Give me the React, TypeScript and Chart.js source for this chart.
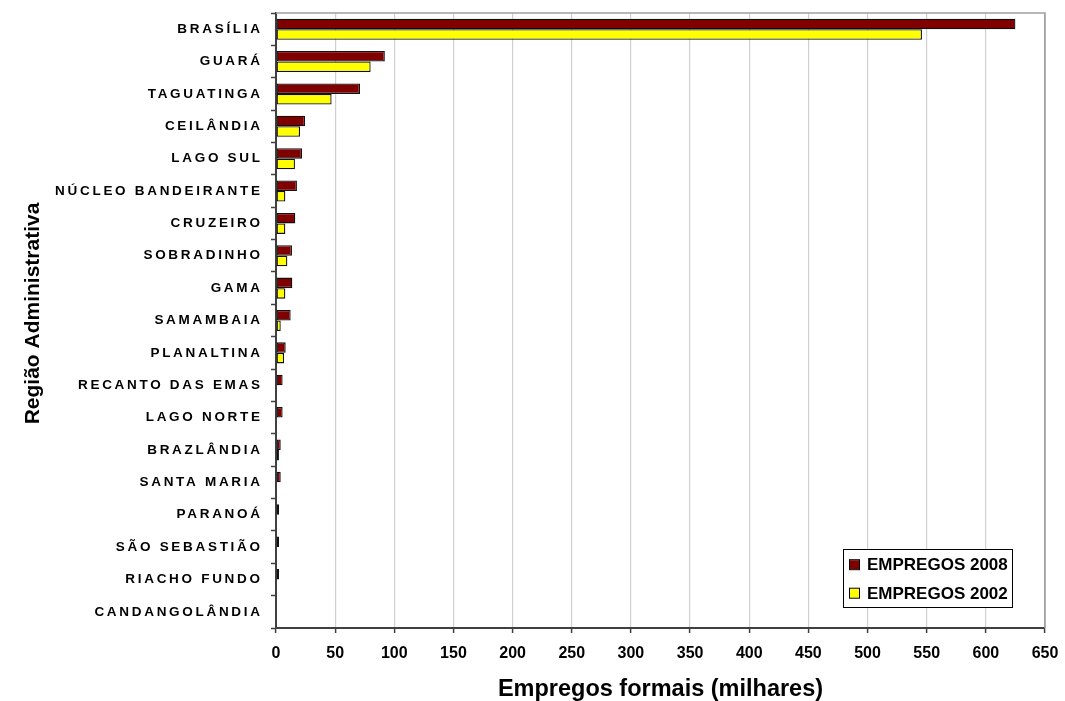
import React, { useEffect, useRef } from 'react';
import { Chart, registerables } from 'chart.js';

Chart.register(...registerables);

const FONT = '"Liberation Sans", Arial, Helvetica, sans-serif';

const regioes = [
  'BRASÍLIA',
  'GUARÁ',
  'TAGUATINGA',
  'CEILÂNDIA',
  'LAGO SUL',
  'NÚCLEO BANDEIRANTE',
  'CRUZEIRO',
  'SOBRADINHO',
  'GAMA',
  'SAMAMBAIA',
  'PLANALTINA',
  'RECANTO DAS EMAS',
  'LAGO NORTE',
  'BRAZLÂNDIA',
  'SANTA MARIA',
  'PARANOÁ',
  'SÃO SEBASTIÃO',
  'RIACHO FUNDO',
  'CANDANGOLÂNDIA',
];

// Empregos formais, em milhares
const empregos2008 = [625, 92, 71, 24.5, 22, 17.7, 16.3, 13.5, 13.8, 12.4, 8.2, 5.6, 5.6, 4, 4, 2.6, 2.6, 2.6, null];
const empregos2002 = [546, 80, 47, 20.3, 16, 7.9, 7.9, 9.6, 7.9, 4, 6.8, null, null, 2.5, null, null, null, null, null];

const xMin = 0;
const xMax = 650;
const xStep = 50;

const serieLabels = ['EMPREGOS 2008', 'EMPREGOS 2002'];
const serieColors = ['#800000', '#FFFF00'];

const tituloX = 'Empregos formais (milhares)';
const tituloY = 'Região Administrativa';

// Category labels, y-axis title, plot frame and legend box
const decorations = {
  id: 'decorations',
  afterDraw(chart: any) {
    const { ctx, chartArea, scales } = chart;
    const y = scales.y;
    ctx.save();

    // top and right frame of the plot area
    ctx.strokeStyle = '#a0a0a0';
    ctx.lineWidth = 1.5;
    ctx.beginPath();
    ctx.moveTo(chartArea.left, chartArea.top);
    ctx.lineTo(chartArea.right, chartArea.top);
    ctx.lineTo(chartArea.right, chartArea.bottom);
    ctx.stroke();

    // region names, letter-spaced
    const spacing = 2.7;
    ctx.font = `bold 13.5px ${FONT}`;
    (ctx as any).letterSpacing = `${spacing}px`;
    ctx.textAlign = 'right';
    ctx.textBaseline = 'middle';
    ctx.fillStyle = '#000';
    regioes.forEach((r, i) => {
      ctx.fillText(r, y.left - 11 + spacing, y.getPixelForValue(i));
    });
    (ctx as any).letterSpacing = '0px';

    // y-axis title
    ctx.save();
    ctx.translate(33, (chartArea.top + chartArea.bottom) / 2 - 7);
    ctx.rotate(-Math.PI / 2);
    ctx.font = `bold 21px ${FONT}`;
    ctx.textAlign = 'center';
    ctx.textBaseline = 'middle';
    ctx.fillText(tituloY, 0, 0);
    ctx.restore();

    // legend
    const lw = 169;
    const lh = 58;
    const lx = chartArea.right - 202;
    const ly = chartArea.bottom - 79;
    ctx.fillStyle = '#fff';
    ctx.fillRect(lx, ly, lw, lh);
    ctx.strokeStyle = '#000';
    ctx.lineWidth = 1;
    ctx.strokeRect(lx + 0.5, ly + 0.5, lw, lh);
    ctx.font = `bold 17px ${FONT}`;
    ctx.textAlign = 'left';
    ctx.textBaseline = 'middle';
    chart.data.datasets.forEach((ds: any, i: number) => {
      const cy = ly + 15.7 + i * 28.5;
      ctx.fillStyle = ds.backgroundColor;
      ctx.fillRect(lx + 7, cy - 4.5, 9, 9);
      ctx.strokeStyle = '#000';
      ctx.strokeRect(lx + 6.5, cy - 5, 10, 10);
      ctx.fillStyle = '#000';
      ctx.fillText(ds.label, lx + 24, cy + 1);
    });

    ctx.restore();
  },
};

export default function App() {
  const canvasRef = useRef<HTMLCanvasElement | null>(null);

  useEffect(() => {
    if (!canvasRef.current) return;
    const chart = new Chart(canvasRef.current, {
      type: 'bar',
      data: {
        labels: regioes,
        datasets: [
          {
            label: serieLabels[0],
            data: empregos2008 as any,
            backgroundColor: serieColors[0],
            borderColor: '#111',
            borderWidth: 1.3,
            borderSkipped: false,
          },
          {
            label: serieLabels[1],
            data: empregos2002 as any,
            backgroundColor: serieColors[1],
            borderColor: '#111',
            borderWidth: 1.3,
            borderSkipped: false,
          },
        ],
      },
      options: {
        indexAxis: 'y',
        animation: false,
        responsive: false,
        maintainAspectRatio: false,
        datasets: {
          bar: {
            categoryPercentage: 0.65,
            barPercentage: 1.0,
          },
        },
        layout: {
          padding: { left: 271, right: 20, top: 13, bottom: 0 },
        },
        plugins: {
          legend: { display: false },
          tooltip: { enabled: false },
        },
        scales: {
          x: {
            type: 'linear',
            position: 'bottom',
            min: xMin,
            max: xMax,
            afterFit: (scale: any) => {
              scale.paddingRight = 0;
            },
            ticks: {
              stepSize: xStep,
              color: '#000',
              padding: 11,
              font: { family: FONT, size: 16, weight: 'bold' },
            },
            grid: {
              color: (c: any) => (c.tick && c.tick.value === xMax ? '#a0a0a0' : '#d0d0d0'),
              lineWidth: 1.2,
              tickColor: '#404040',
              tickLength: 5,
              tickWidth: 1.5,
            },
            border: { color: '#404040', width: 2 },
            title: {
              display: true,
              text: tituloX,
              color: '#000',
              font: { family: FONT, size: 23.5, weight: 'bold', lineHeight: 1 },
              padding: { top: 3.3, bottom: 0 },
            },
          },
          y: {
            type: 'category',
            ticks: { display: false },
            grid: {
              offset: true,
              drawOnChartArea: false,
              drawTicks: true,
              tickLength: 5,
              tickColor: '#404040',
              tickWidth: 1.5,
            },
            border: { color: '#404040', width: 2 },
          },
        },
      },
      plugins: [decorations],
    });
    return () => chart.destroy();
  }, []);

  return (
    <div style={{ position: 'fixed', left: 0, top: 0, width: 1065, height: 701, background: '#fff' }}>
      <canvas ref={canvasRef} width={1065} height={701} style={{ width: 1065, height: 701 }} />
    </div>
  );
}
